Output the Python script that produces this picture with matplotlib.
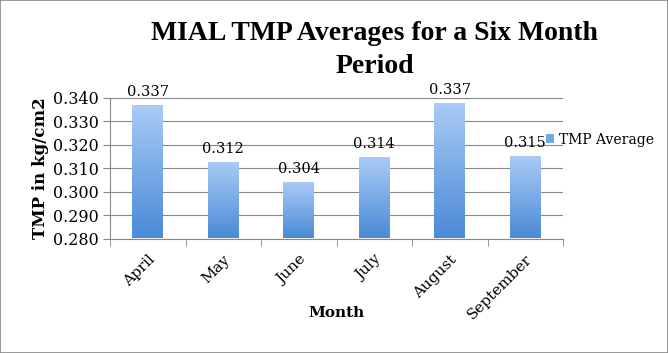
import numpy as np
import matplotlib
matplotlib.use("Agg")
import matplotlib.pyplot as plt
from matplotlib.colors import LinearSegmentedColormap
from matplotlib.patches import Rectangle, Patch

months = ["April", "May", "June", "July", "August", "September"]
tmp_avg = [0.3365, 0.312, 0.3037, 0.3143, 0.3372, 0.3148]
labels = ["0.337", "0.312", "0.304", "0.314", "0.337", "0.315"]
yticks = [0.280, 0.290, 0.300, 0.310, 0.320, 0.330, 0.340]

plt.rcParams['font.family'] = ['DejaVu Serif']

fig = plt.figure(figsize=(6.68, 3.53), dpi=100)
ax = fig.add_axes([110/668, 1-238.5/353, 453/668, 141/353])

x = np.arange(len(months))
bars = ax.bar(x, [v - 0.28 for v in tmp_avg], bottom=0.28, width=0.41, color='#6fa6e6', zorder=2)

cmap = LinearSegmentedColormap.from_list('g', ['#4a8ad6', '#a9cbf6'])
grad = np.linspace(0, 1, 256).reshape(-1, 1)
for b in bars:
    b.set_facecolor('none')
    x0, y0 = b.get_x(), b.get_y()
    w, h = b.get_width(), b.get_height()
    ax.imshow(grad, extent=[x0, x0 + w, y0, y0 + h], origin='lower', cmap=cmap, aspect='auto', zorder=2)

for xi, v, lab in zip(x, tmp_avg, labels):
    ax.annotate(lab, (xi, v), xytext=(0, 5), textcoords='offset points', ha='center', va='bottom', fontsize=10.5)

ax.set_xlim(-0.5, len(months) - 0.5)
ax.set_ylim(0.28, 0.34)
ax.set_yticks(yticks)
ax.set_yticklabels([f"{t:.3f}" for t in yticks], fontsize=11.5)
ax.set_xticks(x)
ax.set_xticklabels(months, rotation=45, ha='right', rotation_mode='anchor', fontsize=11)
ax.tick_params(axis='x', length=0, pad=10)
ax.set_xticks(np.arange(-0.5, len(months)), minor=True)
ax.tick_params(axis='x', which='minor', length=5, color='#888888')
ax.tick_params(axis='y', length=5, color='#888888', pad=3)
ax.grid(axis='y', color='#888888', linewidth=0.8, zorder=0)
ax.set_axisbelow(True)
for s in ['top', 'right']:
    ax.spines[s].set_visible(False)
for s in ['left', 'bottom']:
    ax.spines[s].set_color('#888888')

ax.set_xlabel("Month", fontsize=11, fontweight='bold')
ax.xaxis.set_label_coords(0.5, -0.48)
ax.set_ylabel("TMP in kg/cm2", fontsize=12, fontweight='bold')
ax.yaxis.set_label_coords(-0.135, 0.5)

fig.suptitle("MIAL TMP Averages for a Six Month\nPeriod", fontsize=20, fontweight='bold',
             family='Liberation Serif', x=0.561, y=0.94, linespacing=1.4)

ax.legend(handles=[Patch(facecolor='#6fa6e6')], labels=['TMP Average'], loc='center left',
          bbox_to_anchor=(0.935, 0.7), frameon=False, fontsize=10, handlelength=0.6,
          handleheight=0.6, handletextpad=0.3)

fig.patches.append(Rectangle((0, 0), 1, 1, transform=fig.transFigure, fill=False, edgecolor='#888888', linewidth=1.2))

fig.savefig("out.png", dpi=100)
